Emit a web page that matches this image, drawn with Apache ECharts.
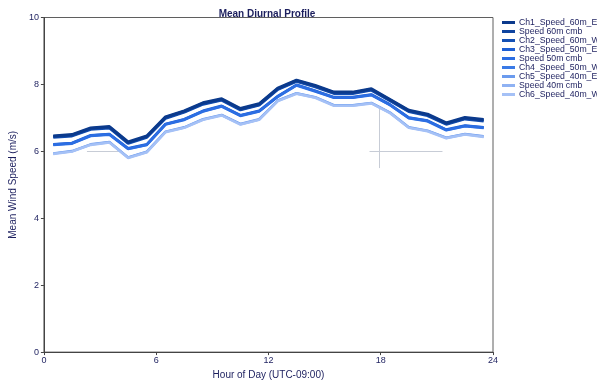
<!DOCTYPE html>
<html>
<head>
<meta charset="utf-8">
<script src="https://cdn.jsdelivr.net/npm/echarts@6/dist/echarts.min.js"></script>
<style>html,body{margin:0;padding:0;background:#fff;}#c{width:597px;height:385px;}</style>
</head>
<body>
<div id="c"></div>
<script>
var hours = [0.5,1.5,2.5,3.5,4.5,5.5,6.5,7.5,8.5,9.5,10.5,11.5,12.5,13.5,14.5,15.5,16.5,17.5,18.5,19.5,20.5,21.5,22.5,23.5];
var xTicks = [0,6,12,18,24];
var yTicks = [0,2,4,6,8,10];
var seriesNames = ['Ch1_Speed_60m_E','Speed 60m cmb','Ch2_Speed_60m_W','Ch3_Speed_50m_E','Speed 50m cmb','Ch4_Speed_50m_W','Ch5_Speed_40m_E','Speed 40m cmb','Ch6_Speed_40m_W'];
var ch1_60E = [6.46,6.50,6.70,6.74,6.28,6.46,7.03,7.21,7.45,7.57,7.28,7.42,7.89,8.13,7.97,7.77,7.77,7.87,7.55,7.23,7.11,6.85,7.01,6.95];
var cmb_60  = [6.44,6.48,6.68,6.72,6.26,6.44,7.01,7.19,7.43,7.55,7.26,7.40,7.87,8.11,7.95,7.75,7.75,7.85,7.53,7.21,7.09,6.83,6.99,6.93];
var ch2_60W = [6.42,6.46,6.66,6.70,6.24,6.42,6.99,7.17,7.41,7.53,7.24,7.38,7.85,8.09,7.93,7.73,7.73,7.83,7.51,7.19,7.07,6.81,6.97,6.91];
var ch3_50E = [6.21,6.25,6.48,6.52,6.09,6.21,6.82,6.96,7.21,7.36,7.08,7.21,7.65,7.99,7.81,7.62,7.62,7.70,7.40,7.01,6.92,6.65,6.77,6.72];
var cmb_50  = [6.20,6.24,6.47,6.51,6.08,6.20,6.81,6.95,7.20,7.35,7.07,7.20,7.64,7.98,7.80,7.61,7.61,7.69,7.39,7.00,6.91,6.64,6.76,6.71];
var ch4_50W = [6.19,6.23,6.46,6.50,6.07,6.19,6.80,6.94,7.19,7.34,7.06,7.19,7.63,7.97,7.79,7.60,7.60,7.68,7.38,6.99,6.90,6.63,6.75,6.70];
var ch5_40E = [5.94,6.01,6.21,6.28,5.82,5.99,6.59,6.72,6.96,7.09,6.82,6.96,7.52,7.74,7.62,7.38,7.38,7.45,7.16,6.72,6.62,6.41,6.52,6.45];
var cmb_40  = [5.93,6.00,6.20,6.27,5.81,5.98,6.58,6.71,6.95,7.08,6.81,6.95,7.51,7.73,7.61,7.37,7.37,7.44,7.15,6.71,6.61,6.40,6.51,6.44];
var ch6_40W = [5.92,5.99,6.19,6.26,5.80,5.97,6.57,6.70,6.94,7.07,6.80,6.94,7.50,7.72,7.60,7.36,7.36,7.43,7.14,6.70,6.60,6.39,6.50,6.43];
var crosshairs = [[[2.3,6],[4.0,6]],[[17.4,6],[21.3,6]],[[17.9,7.35],[17.9,5.5]]];

var allData = [ch1_60E,cmb_60,ch2_60W,ch3_50E,cmb_50,ch4_50W,ch5_40E,cmb_40,ch6_40W];
var colors = ['#0b3a8c','#0f44a0','#1450b4','#1d5fd4','#2c6ee3','#3a7ae6','#6b9bee','#8fb2f3','#a5c1f6'];
var widths = [3,3,3,2.6,2.6,2.6,2.4,2.4,2.4];
var zs = [19,18,17,15,16,14,11,12,13];
var font = 'Liberation Sans, Arial, sans-serif';
var navy = '#1c1f5e';

var series = allData.map(function(d, i){
  return {
    name: seriesNames[i], type: 'line', showSymbol: false, symbol: 'none',
    data: d.map(function(v, j){ return [hours[j], v]; }),
    lineStyle: {width: widths[i], color: colors[i]}, itemStyle: {color: colors[i]},
    z: zs[i]
  };
});
series.push({
  type: 'line', data: [], silent: true, z: 1,
  markLine: {silent: true, symbol: 'none', label: {show: false},
    lineStyle: {color: '#c7ccd6', width: 1, type: 'solid'},
    data: crosshairs.map(function(p){ return [{coord: p[0]}, {coord: p[1]}]; })}
});

var chart = echarts.init(document.getElementById('c'), null, {renderer: 'canvas'});
chart.setOption({
  animation: false,
  backgroundColor: '#fff',
  title: {text: 'Mean Diurnal Profile', left: 262, textAlign: 'center', top: 4,
    textStyle: {fontFamily: font, fontSize: 10, fontWeight: 'bold', color: navy}},
  legend: {
    orient: 'vertical', left: 502, top: 18, padding: 0, itemGap: 0, itemWidth: 13, itemHeight: 3,
    icon: 'rect', data: seriesNames,
    textStyle: {fontFamily: font, fontSize: 8.7, color: navy, lineHeight: 9, padding: [0,0,0,-1]}
  },
  grid: {left: 36.5, right: 104, top: 17.5, bottom: 25.5, show: true, borderColor: '#5f5f5f', borderWidth: 1, backgroundColor: 'transparent'},
  xAxis: {
    type: 'value', min: 0, max: 24, interval: 6,
    name: 'Hour of Day (UTC-09:00)', nameLocation: 'middle', nameGap: 17,
    nameTextStyle: {fontFamily: font, fontSize: 10, color: navy},
    axisLine: {show: true, lineStyle: {color: '#444', width: 1}},
    axisTick: {show: true, length: 3, lineStyle: {color: '#444'}},
    axisLabel: {fontFamily: font, fontSize: 9, color: navy, margin: 4,
      formatter: function(v){ return xTicks.indexOf(v) >= 0 ? String(v) : ''; }},
    splitLine: {show: false}
  },
  yAxis: {
    type: 'value', min: 0, max: 10, interval: 2,
    name: 'Mean Wind Speed (m/s)', nameLocation: 'middle', nameGap: 21,
    nameTextStyle: {fontFamily: font, fontSize: 10, color: navy},
    axisLine: {show: true, lineStyle: {color: '#444', width: 1}},
    axisTick: {show: true, length: 3, lineStyle: {color: '#444'}},
    axisLabel: {fontFamily: font, fontSize: 9, color: navy, margin: 5,
      formatter: function(v){ return yTicks.indexOf(v) >= 0 ? String(v) : ''; }},
    splitLine: {show: false}
  },
  series: series
});
</script>
</body>
</html>
